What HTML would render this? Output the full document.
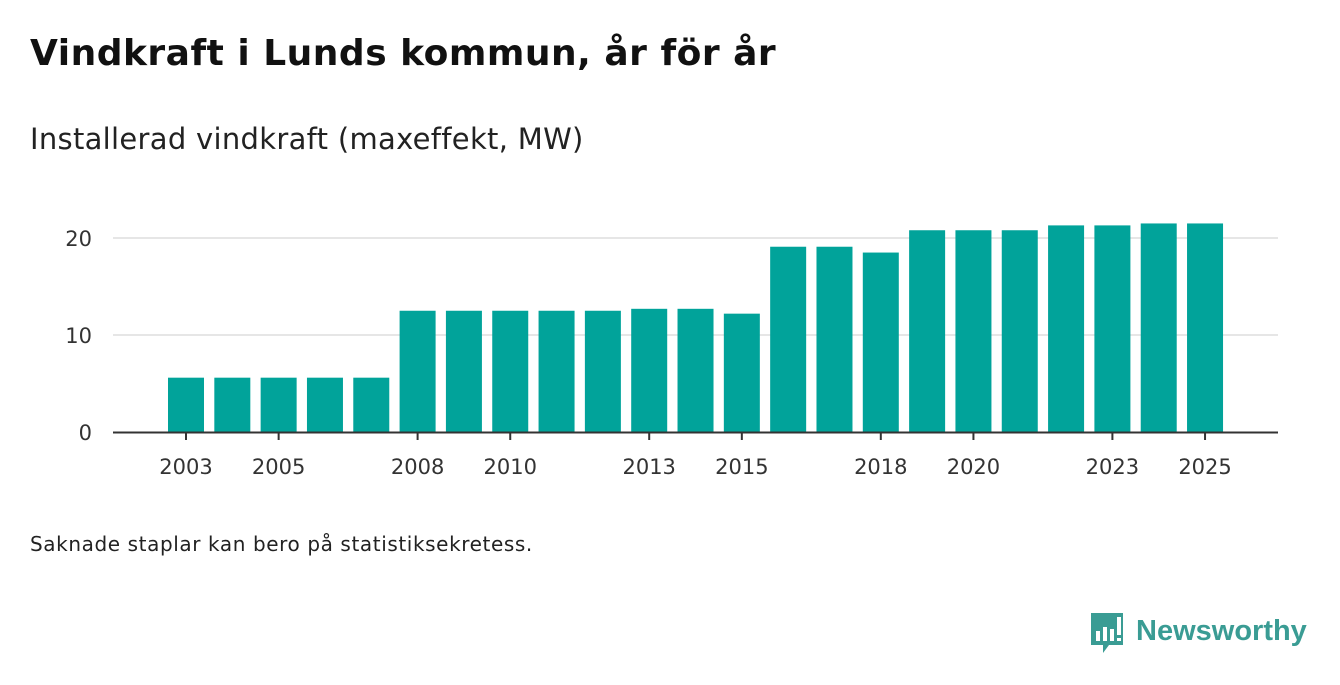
<!DOCTYPE html>
<html><head><meta charset="utf-8"><style>
body{margin:0;width:1340px;height:685px;background:#fff;font-family:"DejaVu Sans","Liberation Sans",sans-serif;overflow:hidden;position:relative}
.t{position:absolute;left:30px;top:33px;font-size:36px;font-weight:bold;color:#111;letter-spacing:0.5px}
.s{position:absolute;left:30px;top:122px;font-size:29px;color:#222;letter-spacing:0.3px}
.n{position:absolute;left:30px;top:532px;font-size:20px;color:#222;letter-spacing:0.6px}
</style></head><body>
<div class="t">Vindkraft i Lunds kommun, år för år</div>
<div class="s">Installerad vindkraft (maxeffekt, MW)</div>
<svg id="c" width="1340" height="685" style="position:absolute;left:0;top:0"></svg>
<div class="n">Saknade staplar kan bero på statistiksekretess.</div>
<svg style="position:absolute;left:1089px;top:613px" width="220" height="45">
<path d="M2 0h32v32h-14l-6 8v-8h-12z" fill="#3a9c94"/>
<rect x="7" y="18" width="4" height="10" fill="#fff"/><rect x="14" y="14" width="4" height="14" fill="#fff"/><rect x="21" y="16" width="4" height="12" fill="#fff"/><rect x="28" y="4" width="4" height="18" fill="#fff"/><rect x="28" y="25" width="4" height="3" fill="#fff"/>
<text x="47" y="27" font-family="Liberation Sans" font-size="29" font-weight="bold" fill="#3a9c94">Newsworthy</text>
</svg>
<script>
const years=[2003,2004,2005,2006,2007,2008,2009,2010,2011,2012,2013,2014,2015,2016,2017,2018,2019,2020,2021,2022,2023,2024,2025];
const values=[5.6,5.6,5.6,5.6,5.6,12.5,12.5,12.5,12.5,12.5,12.7,12.7,12.2,19.1,19.1,18.5,20.8,20.8,20.8,21.3,21.3,21.5,21.5];
const yTicks=[0,10,20];
const xTickLabels=[2003,2005,2008,2010,2013,2015,2018,2020,2023,2025];
const svg=document.getElementById('c');const NS='http://www.w3.org/2000/svg';
const y=v=>432-v*9.7;const x=yr=>186+(yr-2003)*46.32;
function mk(t,a){const e=document.createElementNS(NS,t);for(const k in a)e.setAttribute(k,a[k]);svg.appendChild(e);return e;}
yTicks.forEach(v=>{
 if(v>0){const g=mk('line',{x1:113,x2:1278,y1:y(v),y2:y(v),stroke:'#ddd','stroke-width':1.5});
 
 }
 const t=mk('text',{x:92,y:y(v)+8,'text-anchor':'end','font-size':21,fill:'#333','font-family':'DejaVu Sans'});t.textContent=v;
 
 
});
years.forEach((yr,i)=>{
 const b=mk('rect',{x:x(yr)-18,y:y(values[i]),width:36,height:432-y(values[i]),fill:'#01a39a'});
 
 
});
const ax=mk('line',{x1:113,x2:1278,y1:432.5,y2:432.5,stroke:'#333','stroke-width':2});


xTickLabels.forEach(yr=>{
 const tk=mk('line',{x1:x(yr),x2:x(yr),y1:433,y2:440,stroke:'#333','stroke-width':2});
 
 
 const t=mk('text',{x:x(yr),y:474,'text-anchor':'middle','font-size':21,fill:'#333','font-family':'DejaVu Sans'});t.textContent=yr;
 
 
});
</script>
</body></html>
